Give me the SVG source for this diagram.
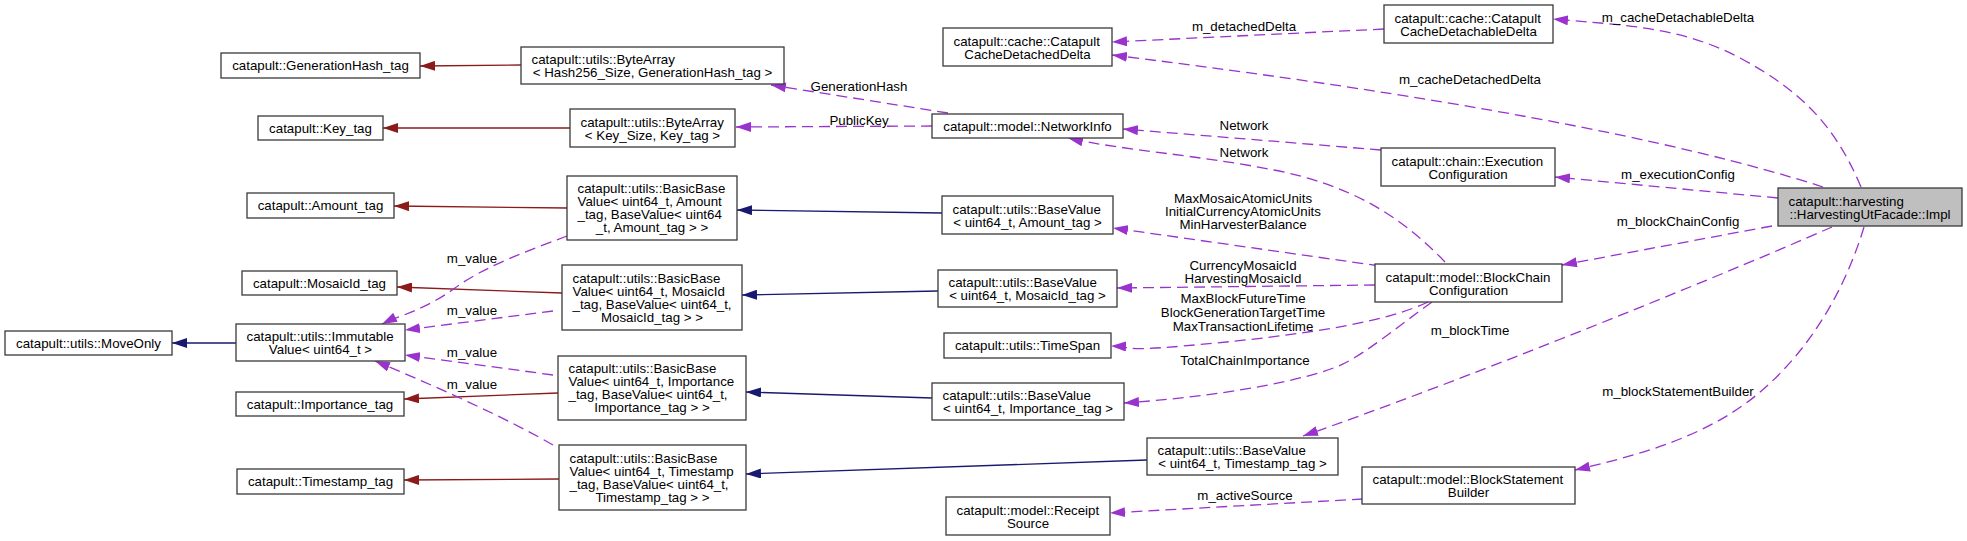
<svg xmlns="http://www.w3.org/2000/svg" width="1967" height="541" viewBox="0 0 1967 541">
<style>
.n rect{fill:#ffffff;stroke:#3a3a3a;stroke-width:1.3}
.n.hl rect{fill:#bfbfbf}
text{font-family:"Liberation Sans",Arial,Helvetica,sans-serif;font-size:13.3px;fill:#000}
.c{text-anchor:middle}
.red{stroke:#8b1a1a;stroke-width:1.3;fill:none;marker-end:url(#ar)}
.blue{stroke:#191970;stroke-width:1.3;fill:none;marker-end:url(#ab)}
.pur{stroke:#9a32cd;stroke-width:1.3;fill:none;stroke-dasharray:11,6;marker-end:url(#ap)}
</style>
<defs>
<marker id="ar" viewBox="0 0 15 10" refX="15" refY="5" markerWidth="15" markerHeight="10" markerUnits="userSpaceOnUse" orient="auto"><path d="M0,0 L15,5 L0,10 z" fill="#8b1a1a"/></marker>
<marker id="ab" viewBox="0 0 15 10" refX="15" refY="5" markerWidth="15" markerHeight="10" markerUnits="userSpaceOnUse" orient="auto"><path d="M0,0 L15,5 L0,10 z" fill="#191970"/></marker>
<marker id="ap" viewBox="0 0 15 10" refX="15" refY="5" markerWidth="15" markerHeight="10" markerUnits="userSpaceOnUse" orient="auto"><path d="M0,0 L15,5 L0,10 z" fill="#9a32cd"/></marker>
</defs>
<rect width="1967" height="541" fill="#ffffff"/>
<g id="connectors">
<path class="red" d="M521,65 L420,66"/>
<path class="red" d="M570,128 L383,128"/>
<path class="red" d="M567,208 L394,206"/>
<path class="red" d="M562,293 L397,287"/>
<path class="red" d="M558,393 L404,399"/>
<path class="red" d="M559,479 L404,480"/>
<path class="blue" d="M236,343 L172,343"/>
<path class="blue" d="M942,213 L737,210"/>
<path class="blue" d="M938,291 L742,295"/>
<path class="blue" d="M932,398 L746,392"/>
<path class="blue" d="M1147,460 L746,474"/>
<path class="pur" d="M567,236 C530,250 485,266 455,288 S398,316 382,324"/>
<text class="c" x="472" y="262.5">m_value</text>
<path class="pur" d="M553,311 L405,330"/>
<text class="c" x="472" y="315">m_value</text>
<path class="pur" d="M553,375 L405,355"/>
<text class="c" x="472" y="357">m_value</text>
<path class="pur" d="M553,445 C510,420 440,388 375,361"/>
<text class="c" x="472" y="388.5">m_value</text>
<path class="pur" d="M948,113 L771,85"/>
<text class="c" x="859" y="90.5">GenerationHash</text>
<path class="pur" d="M932,126 L736,127"/>
<text class="c" x="859" y="124.5">PublicKey</text>
<path class="pur" d="M1384,29 L1112,42"/>
<text class="c" x="1244" y="30.5">m_detachedDelta</text>
<path class="pur" d="M1823,187 Q1600,115 1112,55"/>
<text class="c" x="1470" y="83.5">m_cacheDetachedDelta</text>
<path class="pur" d="M1861,187 C1835,125 1800,90 1740,58 S1620,25 1553,19"/>
<text class="c" x="1678" y="21.5">m_cacheDetachableDelta</text>
<path class="pur" d="M1778,198 L1555,177"/>
<text class="c" x="1678" y="178.5">m_executionConfig</text>
<path class="pur" d="M1381,150 L1123,129"/>
<text class="c" x="1244" y="129.5">Network</text>
<path class="pur" d="M1445,262 C1400,215 1350,185 1274,170 S1120,150 1068,138"/>
<text class="c" x="1244" y="156.5">Network</text>
<path class="pur" d="M1772,226 L1562,265"/>
<text class="c" x="1678" y="225.5">m_blockChainConfig</text>
<path class="pur" d="M1380,266 L1113,228"/>
<text class="c" x="1243" y="202.5">MaxMosaicAtomicUnits</text>
<text class="c" x="1243" y="215.5">InitialCurrencyAtomicUnits</text>
<text class="c" x="1243" y="228.5">MinHarvesterBalance</text>
<path class="pur" d="M1375,285 L1117,288"/>
<text class="c" x="1243" y="270">CurrencyMosaicId</text>
<text class="c" x="1243" y="283">HarvestingMosaicId</text>
<path class="pur" d="M1428,302 C1390,320 1320,333 1216,343 S1140,347 1111,346"/>
<text class="c" x="1243" y="302.5">MaxBlockFutureTime</text>
<text class="c" x="1243" y="316.5">BlockGenerationTargetTime</text>
<text class="c" x="1243" y="330.5">MaxTransactionLifetime</text>
<path class="pur" d="M1432,302 C1400,325 1370,350 1345,363 S1240,395 1124,403"/>
<text class="c" x="1245" y="365">TotalChainImportance</text>
<path class="pur" d="M1832,227 C1700,285 1450,385 1303,436"/>
<text class="c" x="1470" y="334.5">m_blockTime</text>
<path class="pur" d="M1864,227 C1845,290 1810,350 1759,393 S1640,455 1575,470"/>
<text class="c" x="1678" y="395.5">m_blockStatementBuilder</text>
<path class="pur" d="M1363,499 L1110,513"/>
<text class="c" x="1245" y="499.5">m_activeSource</text>
</g>
<g id="n1" class="n"><rect x="221" y="53" width="199" height="25"/><text class="c" x="320.5" y="70">catapult::GenerationHash_tag</text></g>
<g id="n2" class="n"><rect x="258" y="116" width="125" height="24"/><text class="c" x="320.5" y="132.5">catapult::Key_tag</text></g>
<g id="n3" class="n"><rect x="247" y="193" width="147" height="25"/><text class="c" x="320.5" y="210">catapult::Amount_tag</text></g>
<g id="n4" class="n"><rect x="242" y="271" width="155" height="24"/><text class="c" x="319.5" y="287.5">catapult::MosaicId_tag</text></g>
<g id="n5" class="n"><rect x="5" y="331" width="167" height="24"/><text class="c" x="88.5" y="347.5">catapult::utils::MoveOnly</text></g>
<g id="n6" class="n"><rect x="236" y="324" width="169" height="37"/><text x="246.5" y="341">catapult::utils::Immutable</text><text class="c" x="320.5" y="354">Value&lt; uint64_t &gt;</text></g>
<g id="n7" class="n"><rect x="236" y="392" width="168" height="24"/><text class="c" x="320" y="408.5">catapult::Importance_tag</text></g>
<g id="n8" class="n"><rect x="237" y="469" width="167" height="25"/><text class="c" x="320.5" y="486">catapult::Timestamp_tag</text></g>
<g id="n9" class="n"><rect x="521" y="47" width="263" height="37"/><text x="531.5" y="64">catapult::utils::ByteArray</text><text class="c" x="652.5" y="77">&lt; Hash256_Size, GenerationHash_tag &gt;</text></g>
<g id="n10" class="n"><rect x="570" y="109" width="165" height="38"/><text x="580.5" y="126.5">catapult::utils::ByteArray</text><text class="c" x="652.5" y="139.5">&lt; Key_Size, Key_tag &gt;</text></g>
<g id="n11" class="n"><rect x="567" y="176" width="170" height="64"/><text x="577.5" y="193">catapult::utils::BasicBase</text><text x="577.5" y="206">Value&lt; uint64_t, Amount</text><text x="577.5" y="219">_tag, BaseValue&lt; uint64</text><text class="c" x="652" y="232">_t, Amount_tag &gt; &gt;</text></g>
<g id="n12" class="n"><rect x="562" y="265" width="180" height="65"/><text x="572.5" y="282.5">catapult::utils::BasicBase</text><text x="572.5" y="295.5">Value&lt; uint64_t, MosaicId</text><text x="572.5" y="308.5">_tag, BaseValue&lt; uint64_t,</text><text class="c" x="652" y="321.5">MosaicId_tag &gt; &gt;</text></g>
<g id="n13" class="n"><rect x="558" y="356" width="188" height="64"/><text x="568.5" y="373">catapult::utils::BasicBase</text><text x="568.5" y="386">Value&lt; uint64_t, Importance</text><text x="568.5" y="399">_tag, BaseValue&lt; uint64_t,</text><text class="c" x="652" y="412">Importance_tag &gt; &gt;</text></g>
<g id="n14" class="n"><rect x="559" y="445" width="187" height="65"/><text x="569.5" y="462.5">catapult::utils::BasicBase</text><text x="569.5" y="475.5">Value&lt; uint64_t, Timestamp</text><text x="569.5" y="488.5">_tag, BaseValue&lt; uint64_t,</text><text class="c" x="652.5" y="501.5">Timestamp_tag &gt; &gt;</text></g>
<g id="n15" class="n"><rect x="943" y="28" width="169" height="38"/><text x="953.5" y="45.5">catapult::cache::Catapult</text><text class="c" x="1027.5" y="58.5">CacheDetachedDelta</text></g>
<g id="n16" class="n"><rect x="932" y="114" width="191" height="24"/><text class="c" x="1027.5" y="130.5">catapult::model::NetworkInfo</text></g>
<g id="n17" class="n"><rect x="942" y="196" width="171" height="38"/><text x="952.5" y="213.5">catapult::utils::BaseValue</text><text class="c" x="1027.5" y="226.5">&lt; uint64_t, Amount_tag &gt;</text></g>
<g id="n18" class="n"><rect x="938" y="270" width="179" height="37"/><text x="948.5" y="287">catapult::utils::BaseValue</text><text class="c" x="1027.5" y="300">&lt; uint64_t, MosaicId_tag &gt;</text></g>
<g id="n19" class="n"><rect x="944" y="333" width="167" height="25"/><text class="c" x="1027.5" y="350">catapult::utils::TimeSpan</text></g>
<g id="n20" class="n"><rect x="932" y="383" width="192" height="37"/><text x="942.5" y="400">catapult::utils::BaseValue</text><text class="c" x="1028" y="413">&lt; uint64_t, Importance_tag &gt;</text></g>
<g id="n21" class="n"><rect x="1147" y="438" width="191" height="37"/><text x="1157.5" y="455">catapult::utils::BaseValue</text><text class="c" x="1242.5" y="468">&lt; uint64_t, Timestamp_tag &gt;</text></g>
<g id="n22" class="n"><rect x="946" y="497" width="164" height="38"/><text x="956.5" y="514.5">catapult::model::Receipt</text><text class="c" x="1028" y="527.5">Source</text></g>
<g id="n23" class="n"><rect x="1384" y="5" width="169" height="38"/><text x="1394.5" y="22.5">catapult::cache::Catapult</text><text class="c" x="1468.5" y="35.5">CacheDetachableDelta</text></g>
<g id="n24" class="n"><rect x="1381" y="148" width="174" height="38"/><text x="1391.5" y="165.5">catapult::chain::Execution</text><text class="c" x="1468" y="178.5">Configuration</text></g>
<g id="n25" class="n hl"><rect x="1778" y="188" width="184" height="38"/><text x="1788.5" y="205.5">catapult::harvesting</text><text class="c" x="1870" y="218.5">::HarvestingUtFacade::Impl</text></g>
<g id="n26" class="n"><rect x="1375" y="264" width="187" height="38"/><text x="1385.5" y="281.5">catapult::model::BlockChain</text><text class="c" x="1468.5" y="294.5">Configuration</text></g>
<g id="n27" class="n"><rect x="1362" y="467" width="213" height="37"/><text x="1372.5" y="484">catapult::model::BlockStatement</text><text class="c" x="1468.5" y="497">Builder</text></g>
</svg>
